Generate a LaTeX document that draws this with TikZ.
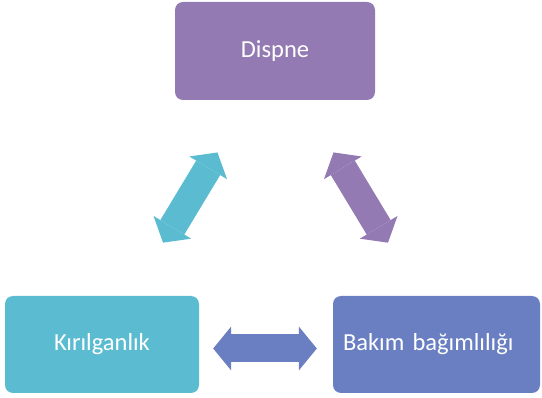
\documentclass[tikz,border=0pt]{standalone}
\usepackage{fontspec}
\setmainfont{Carlito}
\usepackage{tikz}
\usepackage{xcolor}
\usetikzlibrary{positioning,arrows.meta,calc}
\definecolor{mypurple}{RGB}{147,122,178}
\definecolor{mycyan}{RGB}{91,188,209}
\definecolor{myblue}{RGB}{106,127,193}
\tikzset{
    box/.style={
        rectangle,
        rounded corners=8pt,
        text=white,
        minimum height=97pt,
        inner sep=0pt,
        font=\fontsize{24.5}{28}\selectfont
    },
    dblarr/.style={
        line width=28pt,
        {Triangle[length=18pt,width=44pt,line width=0pt]}-{Triangle[length=18pt,width=44pt,line width=0pt]}
    }
}

\begin{document}
\begin{tikzpicture}[x=1pt,y=-1pt]
\useasboundingbox (0,0) rectangle (542,398);

\node[box,fill=mypurple,minimum width=200pt,minimum height=98pt] (dispne) at (275,51) {Dispne};
\node[box,fill=mycyan,minimum width=194pt] (kiril) at (102,344.5) {Kırılganlık};
\node[box,fill=myblue,minimum width=207pt,text width=187pt,inner xsep=10pt,align=left] (bakim) at (436.5,344.5) {Bakım bağımlılığı};

\draw[dblarr,mycyan,shorten <=61pt,shorten >=62pt] ([xshift=-26pt]dispne.south) -- ([xshift=29pt]kiril.north);
\draw[dblarr,mypurple,shorten <=61pt,shorten >=62pt] ([xshift=27pt]dispne.south) -- ([xshift=-16.5pt]bakim.north);
\draw[dblarr,myblue,shorten <=14pt,shorten >=16pt] ([yshift=-4pt]kiril.east) -- ([yshift=-4pt]bakim.west);
\end{tikzpicture}
\end{document}
